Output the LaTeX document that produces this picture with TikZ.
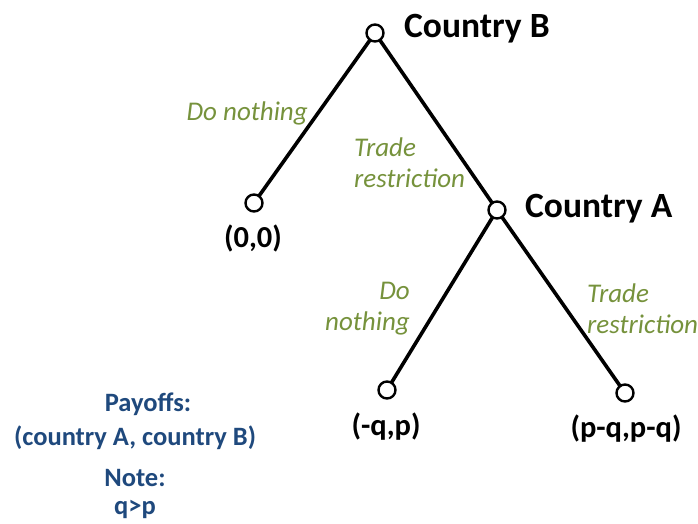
\documentclass[tikz,border=0pt]{standalone}
\usepackage{fontspec}
\setmainfont{Carlito}
\definecolor{lblgreen}{RGB}{118,146,60}
\definecolor{noteblue}{RGB}{31,73,125}
\begin{document}
\begin{tikzpicture}[x=1pt,y=-1pt,
  dec/.style={circle,draw=black,fill=white,line width=2.4pt,minimum size=17pt,inner sep=0pt},
  edge/.style={line width=3.6pt,black},
  player/.style={font=\fontsize{35.5}{38}\selectfont\bfseries,anchor=west,inner sep=0pt},
  act/.style={font=\fontsize{27}{31}\selectfont\itshape,text=lblgreen,inner sep=0pt,align=#1},
  pay/.style={font=\fontsize{30.5}{32}\selectfont\bfseries,inner sep=0pt},
  note/.style={font=\fontsize{26.5}{30}\selectfont\bfseries,text=noteblue,inner sep=0pt}]
\useasboundingbox (0,0) rectangle (698,524);
\coordinate (B) at (375,33);
\coordinate (L) at (254,203);
\coordinate (A) at (497,210);
\coordinate (AL) at (387,390);
\coordinate (AR) at (625,393);
\draw[edge] (B) -- (L);
\draw[edge] (B) -- (A);
\draw[edge] (A) -- (AL);
\draw[edge] (A) -- (AR);
\node[dec] (nB) at (B) {};
\node[dec] (nL) at (L) {};
\node[dec] (nA) at (A) {};
\node[dec] (nAL) at (AL) {};
\node[dec] (nAR) at (AR) {};
\node[player] (tB) at (404,29) {Country B};
\node[player] (tA) at (525,209) {Country A};
\node[act=right,anchor=east] (a1) at (308,113) {Do nothing};
\node[act=left,anchor=west] (a2) at (354,163) {Trade\\restriction};
\node[act=right,anchor=east] (a3) at (410,309) {Do\\nothing};
\node[act=left,anchor=west] (a4) at (587,309) {Trade\\restriction};
\node[pay] (p1) at (253,238) {(0,0)};
\node[pay] (p2) at (386,427) {(-q,p)};
\node[pay] (p3) at (626,429) {(p-q,p-q)};
\node[note] (n1) at (148,404) {Payoffs:};
\node[note] (n2) at (135,438) {(country A, country B)};
\node[note] (n3) at (135,478) {Note:};
\node[note] (n4) at (135,509) {q>p};
\end{tikzpicture}
\end{document}
